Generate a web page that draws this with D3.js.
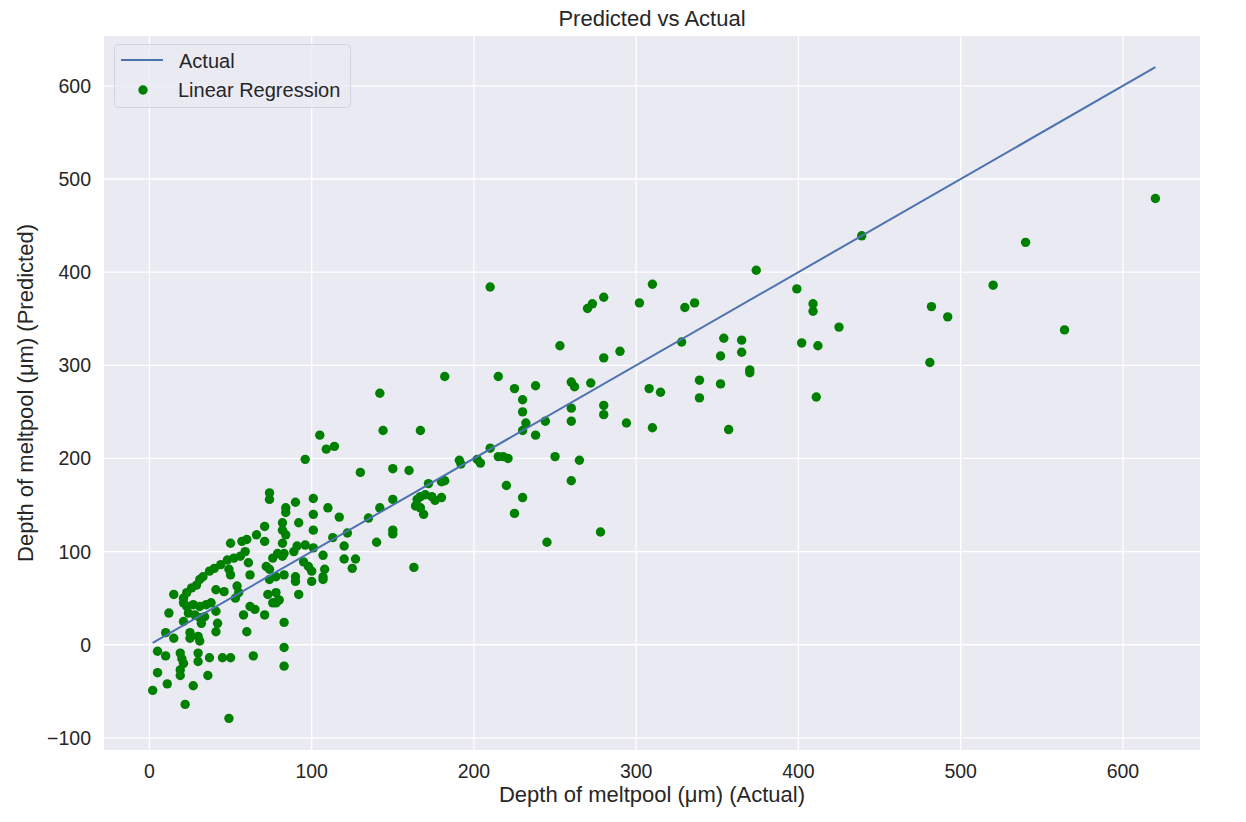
<!DOCTYPE html>
<html lang="en">
<head>
    <meta charset="UTF-8">
    <title>Predicted vs Actual</title>
    <style>
        body {
            margin: 0;
            padding: 0;
            background-color: #fff;
            font-family: 'Liberation Sans', Arial, sans-serif;
        }
        svg {
            display: block;
        }
        .grid line {
            stroke: #fff;
            stroke-width: 1.3px;
        }
        .tick-label {
            fill: #262626;
            font-size: 19.5px;
        }
        .legend-label {
            fill: #262626;
            font-size: 20px;
        }
        .axis-title {
            fill: #262626;
            font-size: 22px;
        }
    </style>
</head>
<body>
<svg id="chart" width="1246" height="822"></svg>

<script src="https://d3js.org/d3.v7.min.js"></script>
<script>
// Actual depth values (x) and the linear regression predictions (y)
const actual = [
    210, 182, 142, 144, 167, 105, 109, 114, 96, 130, 150, 160, 191, 192, 202, 204, 210, 215, 215, 218,
    221, 220, 225, 225, 230, 230, 232, 230, 230, 238, 238, 244, 245, 250, 253, 260, 262, 260, 260, 260,
    265, 270, 273, 280, 272, 280, 280, 280, 278, 290, 294, 302, 310, 308, 315, 310, 330, 336, 328,
    90, 101, 110, 117, 101, 92, 101, 84, 84, 82, 82, 84, 82, 83, 89, 91, 96, 101, 113, 122,
    120, 107, 120, 127, 125, 108, 135, 142, 150, 150, 150, 140, 163, 172, 180, 182, 165, 167, 170, 174,
    176, 180, 164, 167, 169, 95, 98, 100, 90, 107,
    354, 352, 365, 365, 370, 370, 339, 339, 352, 357, 374, 399, 402, 409, 409, 412, 411, 425, 439, 481,
    482, 492, 520, 540, 564, 620,
    74, 74, 71, 66, 60, 57, 50, 71, 59, 56, 52, 48, 44, 40, 61, 49, 50, 37, 33, 31,
    29, 26, 23, 21, 15, 41, 46, 54, 55, 53, 62, 72, 74, 76, 79, 82, 74, 78, 83, 73,
    78, 80, 76,
    12, 10, 15, 21, 23, 27, 31, 35, 38, 24, 28, 31, 34, 32, 21, 41, 42, 41, 25, 25,
    30, 31, 58, 62, 65, 71, 78, 79, 83, 60, 83, 83, 5, 10, 19, 20, 21, 30, 30, 37,
    45, 50, 64, 5, 19, 19, 11, 2, 27, 36, 22, 49,
    107, 100, 92, 90
];
const predicted = [
    384, 288, 270, 230, 230, 225, 210, 213, 199, 185, 189, 187, 198, 194, 199, 195, 211, 288, 202, 202,
    200, 171, 275, 141, 263, 250, 238, 230, 158, 278, 225, 240, 110, 202, 321, 282, 277, 254, 240, 176,
    198, 361, 366, 373, 281, 308, 257, 247, 121, 315, 238, 367, 387, 275, 271, 233, 362, 367, 325,
    153, 157, 147, 137, 140, 131, 123, 147, 142, 131, 123, 118, 109, 98, 100, 106, 107, 104, 115, 120,
    106, 96, 92, 92, 82, 81, 136, 147, 156, 123, 119, 110, 83, 173, 175, 176, 156, 159, 161, 159,
    155, 158, 149, 147, 140, 89, 84, 79, 73, 73,
    329, 310, 327, 314, 295, 292, 284, 265, 280, 231, 402, 382, 324, 366, 358, 321, 266, 341, 439, 303,
    363, 352, 386, 432, 338, 479,
    163, 156, 127, 118, 113, 111, 109, 111, 100, 95, 93, 91, 86, 82, 88, 81, 75, 79, 73, 70,
    64, 61, 56, 50, 54, 59, 57, 63, 56, 50, 75, 84, 81, 93, 98, 95, 70, 73, 75, 54,
    56, 48, 45,
    34, 13, 7, 45, 41, 43, 41, 43, 45, 34, 32, 29, 30, 23, 25, 36, 23, 14, 13, 7,
    9, 4, 32, 41, 38, 32, 45, 47, 24, 14, -3, -23, -7, -12, -9, -15, -20, -9, -18, -14,
    -14, -14, -12, -30, -27, -33, -42, -49, -44, -33, -64, -79,
    70, 68, 54, 68
];
const xTicks = [0, 100, 200, 300, 400, 500, 600];
const yTicks = [-100, 0, 100, 200, 300, 400, 500, 600];

const svg = d3.select("#chart");

// Plot area (matches matplotlib's 5% auto margins)
const plotLeft = 104, plotRight = 1200, plotTop = 36, plotBottom = 750;

const x = d3.scaleLinear().domain([-28, 647.5]).range([plotLeft, plotRight]);
const y = d3.scaleLinear().domain([-113, 653.5]).range([plotBottom, plotTop]);

// Axes background
svg.append("rect")
    .attr("x", plotLeft)
    .attr("y", plotTop)
    .attr("width", plotRight - plotLeft)
    .attr("height", plotBottom - plotTop)
    .attr("fill", "#eaeaf2");

// Grid lines
const grid = svg.append("g").attr("class", "grid");
grid.selectAll(".vx")
    .data(xTicks)
    .enter().append("line")
    .attr("x1", d => x(d)).attr("x2", d => x(d))
    .attr("y1", plotTop).attr("y2", plotBottom);
grid.selectAll(".hy")
    .data(yTicks)
    .enter().append("line")
    .attr("x1", plotLeft).attr("x2", plotRight)
    .attr("y1", d => y(d)).attr("y2", d => y(d));

// Tick labels
svg.append("g").selectAll("text")
    .data(xTicks)
    .enter().append("text")
    .attr("class", "tick-label")
    .attr("x", d => x(d))
    .attr("y", 778)
    .attr("text-anchor", "middle")
    .text(d => d);

svg.append("g").selectAll("text")
    .data(yTicks)
    .enter().append("text")
    .attr("class", "tick-label")
    .attr("x", 91)
    .attr("y", d => y(d))
    .attr("dy", "0.36em")
    .attr("text-anchor", "end")
    .text(d => d < 0 ? "\u2212" + Math.abs(d) : d);

// Axis titles + chart title
svg.append("text")
    .attr("class", "axis-title")
    .attr("x", (plotLeft + plotRight) / 2)
    .attr("y", 802)
    .attr("text-anchor", "middle")
    .text("Depth of meltpool (\u03bcm) (Actual)");

svg.append("text")
    .attr("class", "axis-title")
    .attr("transform", `translate(33, ${(plotTop + plotBottom) / 2}) rotate(-90)`)
    .attr("text-anchor", "middle")
    .text("Depth of meltpool (\u03bcm) (Predicted)");

svg.append("text")
    .attr("class", "axis-title")
    .attr("x", (plotLeft + plotRight) / 2)
    .attr("y", 26)
    .attr("text-anchor", "middle")
    .text("Predicted vs Actual");

// Scatter of predictions
svg.append("g").selectAll("circle")
    .data(actual.map((a, i) => ({a: a, p: predicted[i]})))
    .enter().append("circle")
    .attr("cx", d => x(d.a))
    .attr("cy", d => y(d.p))
    .attr("r", 4.7)
    .attr("fill", "#008000");

// Identity line y = x over the range of actual values
const ext = d3.extent(actual);
svg.append("path")
    .datum(ext)
    .attr("d", d3.line().x(d => x(d)).y(d => y(d)))
    .attr("stroke", "#4c72b0")
    .attr("stroke-width", 2)
    .attr("fill", "none");

// Legend
const legend = svg.append("g");
legend.append("rect")
    .attr("x", 114.5).attr("y", 44.5)
    .attr("width", 236).attr("height", 63)
    .attr("rx", 4)
    .attr("fill", "#eaeaf2")
    .attr("fill-opacity", 0.8)
    .attr("stroke", "#d4d4dc");
legend.append("line")
    .attr("x1", 121).attr("x2", 163)
    .attr("y1", 60).attr("y2", 60)
    .attr("stroke", "#4c72b0")
    .attr("stroke-width", 2);
legend.append("circle")
    .attr("cx", 143).attr("cy", 90)
    .attr("r", 4.7)
    .attr("fill", "#008000");
legend.append("text")
    .attr("class", "legend-label")
    .attr("x", 179).attr("y", 68)
    .text("Actual");
legend.append("text")
    .attr("class", "legend-label")
    .attr("x", 178).attr("y", 97)
    .text("Linear Regression");
</script>
</body>
</html>
